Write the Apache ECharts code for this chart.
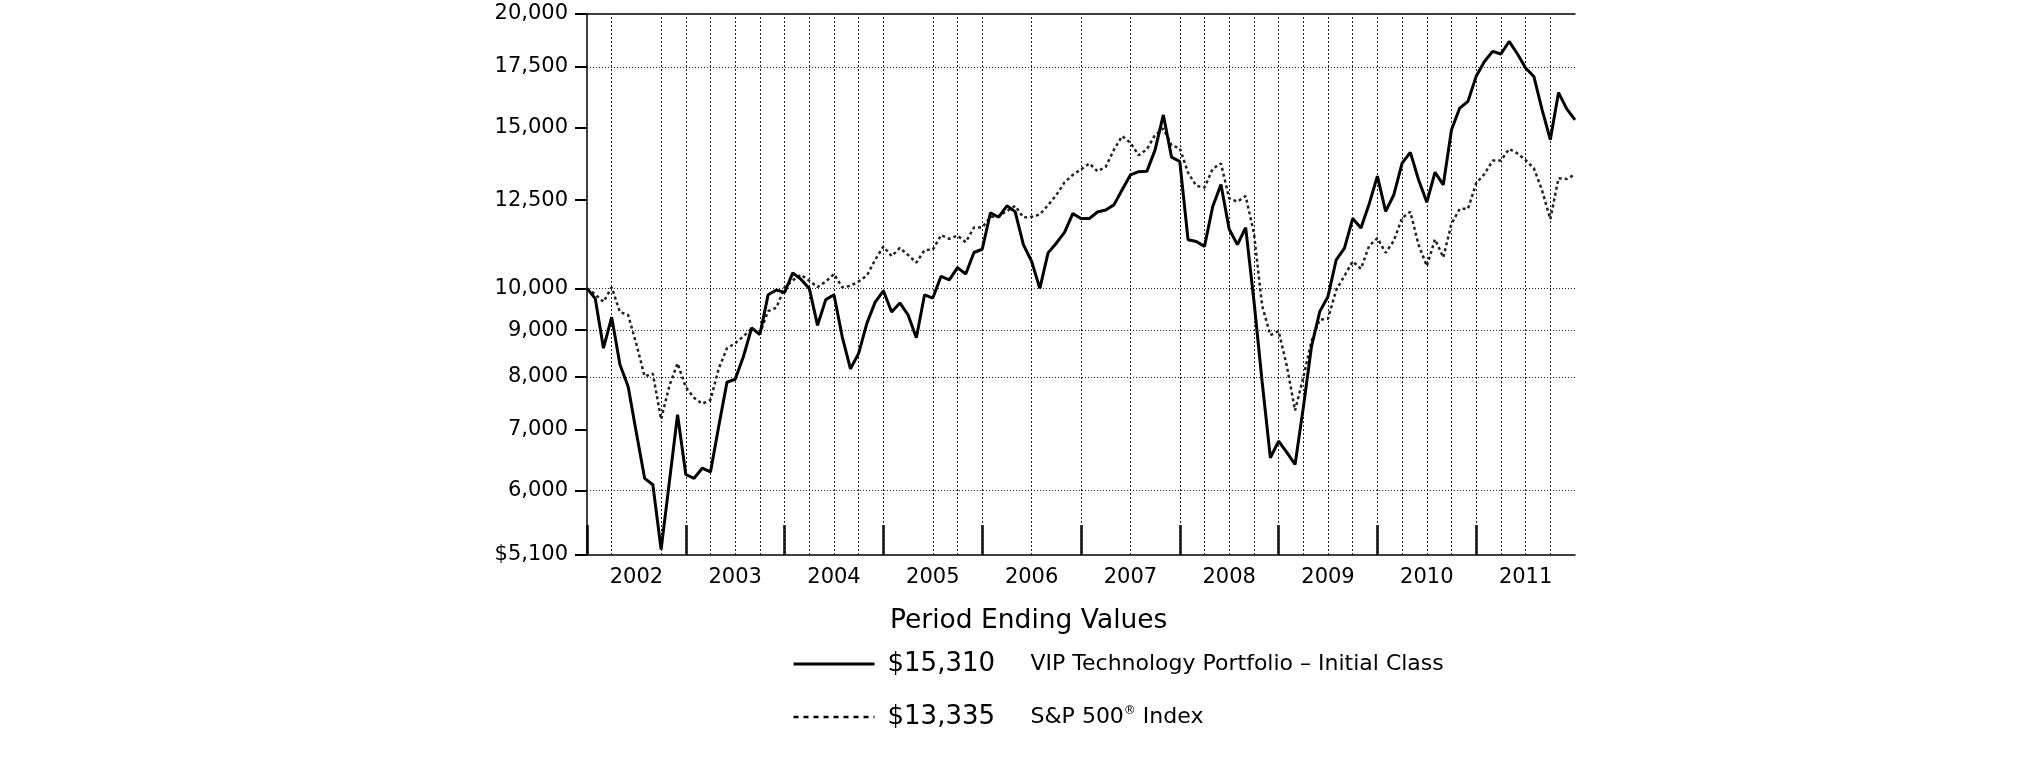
<!DOCTYPE html>
<html>
<head>
<meta charset="utf-8">
<script src="https://cdn.jsdelivr.net/npm/echarts@6/dist/echarts.min.js"></script>
<style>
html,body{margin:0;padding:0;background:#fff;}
#chart{width:2025px;height:761px;}
</style>
</head>
<body>
<div id="chart"></div>
<script>
// ---- data (month index 0 = Dec 2001 ... 120 = Dec 2011) ----
const yearLabels = ['2002','2003','2004','2005','2006','2007','2008','2009','2010','2011'];
const yTickValues = [5100, 6000, 7000, 8000, 9000, 10000, 12500, 15000, 17500, 20000];
const hGridValues = [6000, 8000, 9000, 10000, 17500];
const vGridMonths = [3, 9, 12, 15, 18, 21, 24, 27, 30, 33, 36, 42, 45, 48, 54, 60, 66, 72, 75, 78, 81, 84, 87, 90, 93, 96, 99, 102, 105, 108, 111, 114, 117];
const vipName = 'VIP Technology Portfolio – Initial Class';
const spName = 'S&P 500® Index';
const legendTitle = 'Period Ending Values';

const vipValues = [
  10000, 9750, 8600, 9300, 8250, 7800, 6940, 6190, 6090, 5170, 6130, 7270,
  6250, 6190, 6350, 6290, 7060, 7890, 7950, 8420, 9050, 8900, 9840, 9960,
  9900, 10400, 10230, 10000, 9110, 9720, 9840, 8850, 8160, 8490, 9160, 9660,
  9940, 9420, 9640, 9350, 8830, 9840, 9760, 10310, 10220, 10540, 10370, 10950,
  11040, 12100, 11970, 12320, 12140, 11170, 10710, 10000, 10940, 11210, 11520, 12080,
  11930, 11930, 12130, 12190, 12350, 12830, 13320, 13430, 13440, 14190, 15500, 13930,
  13780, 11310, 11260, 11120, 12300, 13000, 11610, 11170, 11660, 9700, 7900, 6520,
  6800, 6610, 6410, 7400, 8640, 9430, 9800, 10750, 11070, 11930, 11650, 12380,
  13280, 12150, 12670, 13720, 14100, 13160, 12430, 13410, 12990, 14930, 15770, 16040,
  17090, 17740, 18200, 18080, 18660, 18090, 17450, 17080, 15710, 14560, 16400, 15740,
  15310
];
const spValues = [
  10000, 9854, 9664, 10028, 9420, 9350, 8684, 8008, 8060, 7184, 7816, 8277,
  7791, 7587, 7473, 7545, 8167, 8597, 8707, 8860, 9033, 8937, 9443, 9526,
  10026, 10210, 10351, 10195, 10035, 10173, 10371, 10027, 10068, 10177, 10332, 10750,
  11116, 10849, 11077, 10881, 10674, 11014, 11030, 11440, 11336, 11428, 11237, 11662,
  11666, 11975, 12007, 12156, 12319, 11964, 11981, 12055, 12342, 12660, 13073, 13321,
  13508, 13712, 13443, 13594, 14196, 14692, 14448, 14000, 14210, 14741, 14975, 14349,
  14250, 13395, 12960, 12904, 13533, 13709, 12553, 12448, 12628, 11503, 9572, 8885,
  8979, 8222, 7346, 7990, 8754, 9244, 9262, 9963, 10322, 10707, 10508, 11138,
  11353, 10944, 11284, 11947, 12135, 11165, 10581, 11323, 10812, 11777, 12225, 12226,
  13043, 13352, 13810, 13815, 14224, 14063, 13828, 13547, 12811, 11910, 13212, 13183,
  13335
];

// ---- build ----
const FONT = 'DejaVu Sans';
const toPairs = arr => arr.map((v, i) => [i, v]);
const yearTickMonths = yearLabels.map((_, k) => 12 * k);
const yearLabelMonths = yearLabels.map((_, k) => 12 * k + 6);
const money = v => '$' + v.toLocaleString('en-US');

const markLineData = []
  .concat(vGridMonths.map(m => ({ xAxis: m, lineStyle: { type: [2, 2], color: '#222', width: 1 } })))
  .concat(hGridValues.map(v => ({ yAxis: v, lineStyle: { type: [1, 2], color: '#222', width: 1 } })));

const hiddenSymbol = { color: 'rgba(0,0,0,0)', borderColor: 'rgba(0,0,0,0)', borderWidth: 0, opacity: 0 };

const chart = echarts.init(document.getElementById('chart'), null, { renderer: 'canvas' });
chart.setOption({
  animation: false,
  backgroundColor: '#fff',
  grid: { left: 587, right: 450, top: 14, bottom: 206, containLabel: false },
  title: {
    text: legendTitle,
    left: 890, top: 608, padding: 0,
    textStyle: { fontFamily: FONT, fontSize: 26.5, fontWeight: 'normal', color: '#000' }
  },
  legend: {
    orient: 'vertical',
    left: 792, top: 651, padding: 0,
    itemWidth: 81, itemHeight: 14, itemGap: 27,
    selectedMode: false,
    itemStyle: hiddenSymbol,
    data: [
      { name: vipName, itemStyle: hiddenSymbol, lineStyle: { width: 3, type: 'solid', color: '#000' } },
      { name: spName, itemStyle: hiddenSymbol, lineStyle: { width: 2.5, type: [5, 5], color: '#000' } }
    ],
    formatter: name => name === vipName
      ? '{v|' + money(vipValues[vipValues.length - 1]) + '}{n|' + vipName + '}'
      : '{v|' + money(spValues[spValues.length - 1]) + '}{n|S&P 500}{s|®}{n| Index}',
    textStyle: {
      color: '#000', fontFamily: FONT,
      rich: {
        v: { fontFamily: FONT, fontSize: 26, color: '#000', width: 143, padding: [0, 0, 0, 8], lineHeight: 30 },
        n: { fontFamily: FONT, fontSize: 22, color: '#000', lineHeight: 30 },
        s: { fontFamily: FONT, fontSize: 12, color: '#000', padding: [0, 0, 12, 0] }
      }
    }
  },
  xAxis: [{
    type: 'value', min: 0, max: 120, position: 'bottom',
    axisLine: { show: true, lineStyle: { color: '#000', width: 1.5 } },
    axisTick: { show: true, inside: true, length: 30, customValues: yearTickMonths, lineStyle: { color: '#000', width: 2.5 } },
    axisLabel: {
      show: true, customValues: yearLabelMonths, margin: 12,
      formatter: v => yearLabels[Math.round((v - 6) / 12)],
      fontFamily: FONT, fontSize: 21, color: '#000'
    },
    splitLine: { show: false }
  }, {
    type: 'value', min: 0, max: 120, position: 'top',
    axisLine: { show: true, lineStyle: { color: '#000', width: 1.5 } },
    axisTick: { show: false }, axisLabel: { show: false }, splitLine: { show: false }
  }],
  yAxis: {
    type: 'log', logBase: 10, min: 5100, max: 20000,
    axisLine: { show: true, lineStyle: { color: '#000', width: 1.5 } },
    axisTick: { show: true, length: 12, customValues: yTickValues, lineStyle: { color: '#000', width: 2 } },
    axisLabel: {
      show: true, customValues: yTickValues, margin: 19,
      formatter: v => (Math.round(v) === 5100 ? money(5100) : Math.round(v).toLocaleString('en-US')),
      fontFamily: FONT, fontSize: 21, color: '#000'
    },
    splitLine: { show: false }
  },
  series: [
    {
      name: spName, type: 'line', data: toPairs(spValues),
      symbol: 'none', showSymbol: false, z: 3,
      itemStyle: { color: '#222' },
      lineStyle: { color: '#222', width: 2.5, type: [3, 3] },
      markLine: {
        silent: true, symbol: ['none', 'none'], animation: false,
        label: { show: false }, data: markLineData, z: 1
      }
    },
    {
      name: vipName, type: 'line', data: toPairs(vipValues),
      symbol: 'none', showSymbol: false, z: 4,
      itemStyle: { color: '#000' },
      lineStyle: { color: '#000', width: 3, type: 'solid' }
    }
  ]
});
</script>
</body>
</html>
